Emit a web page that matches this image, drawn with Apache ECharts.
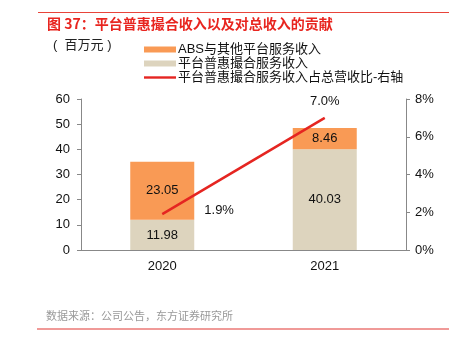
<!DOCTYPE html>
<html><head><meta charset="utf-8">
<script src="https://cdn.jsdelivr.net/npm/echarts@6/dist/echarts.min.js"></script>
<style>html,body{margin:0;padding:0;background:#fff}#c{width:450px;height:341px}</style>
</head><body><div id="c"></div>
<script>
const categories = ['2020', '2021'];
const platformRevenue = [11.98, 40.03];
const absOtherRevenue = [23.05, 8.46];
const sharePct = [1.9, 7.0];
const leftTicks = [0, 60, 10];
const rightTicks = [0, 8, 2];

const FONT = '"Liberation Sans", "Noto Sans CJK SC", sans-serif';
const chart = echarts.init(document.getElementById('c'));
chart.setOption({
  animation: false,
  textStyle: { fontFamily: FONT },
  graphic: [
    { type: 'rect', shape: { x: 38, y: 12, width: 411, height: 1 }, style: { fill: '#E8443A' } },
    { type: 'text', left: 47, top: 17, style: { text: '图 37：平台普惠撮合收入以及对总收入的贡献', fill: '#E8251F', font: 'bold 14px "Noto Sans CJK SC", sans-serif' } },
    { type: 'text', left: 53, top: 39, style: { text: '(  百万元 )', fill: '#222', font: '13px "Liberation Sans", "Noto Sans CJK SC", sans-serif' } },
    { type: 'text', left: 46, top: 310, style: { text: '数据来源：公司公告，东方证券研究所', fill: '#999', font: '11px "Noto Sans CJK SC", sans-serif' } },
    { type: 'rect', shape: { x: 37, y: 328, width: 412, height: 2 }, style: { fill: '#F09A98' } }
  ],
  legend: {
    orient: 'vertical', left: 139, top: 38, itemGap: 1, itemWidth: 32, itemHeight: 6,
    textStyle: { fontSize: 13, color: '#111', fontFamily: FONT, padding: [0, 0, 0, -3] },
    data: [
      { name: 'ABS与其他平台服务收入', icon: 'rect' },
      { name: '平台普惠撮合服务收入', icon: 'rect' },
      { name: '平台普惠撮合服务收入占总营收比-右轴', icon: 'path://M0,0L32,0L32,2.4L0,2.4Z' }
    ]
  },
  grid: { left: 81, right: 44, top: 99, bottom: 91 },
  xAxis: {
    type: 'category', data: categories,
    axisLine: { lineStyle: { color: '#888' } },
    axisTick: { inside: true, length: 4, lineStyle: { color: '#aaa' } },
    axisLabel: { color: '#111', fontSize: 13, margin: 10 }
  },
  yAxis: [
    { type: 'value', min: leftTicks[0], max: leftTicks[1], interval: leftTicks[2],
      axisLine: { show: true, lineStyle: { color: '#888' } },
      axisTick: { show: true, length: 4, lineStyle: { color: '#888' } },
      splitLine: { show: false },
      axisLabel: { color: '#111', fontSize: 13, margin: 11 } },
    { type: 'value', min: rightTicks[0], max: rightTicks[1], interval: rightTicks[2],
      axisLine: { show: true, lineStyle: { color: '#888' } },
      axisTick: { show: true, length: 4, lineStyle: { color: '#888' } },
      splitLine: { show: false },
      axisLabel: { color: '#111', fontSize: 13, margin: 9, formatter: '{value}%' } }
  ],
  series: [
    { name: '平台普惠撮合服务收入', type: 'bar', stack: 's', barWidth: 64, data: platformRevenue,
      itemStyle: { color: '#DDD4BE' },
      label: { show: true, position: 'inside', color: '#111', fontSize: 13, formatter: p => p.value.toFixed(2) } },
    { name: 'ABS与其他平台服务收入', type: 'bar', stack: 's', barWidth: 64, data: absOtherRevenue,
      itemStyle: { color: '#F99A55' },
      label: { show: true, position: 'inside', color: '#111', fontSize: 13, formatter: p => p.value.toFixed(2) } },
    { name: '平台普惠撮合服务收入占总营收比-右轴', type: 'line', yAxisIndex: 1,
      data: [
        { value: sharePct[0], label: { position: 'right', offset: [37, -4] } },
        { value: sharePct[1], label: { position: 'top', distance: 10 } }
      ],
      symbol: 'circle', symbolSize: 0.1,
      lineStyle: { color: '#E52521', width: 2.5 }, itemStyle: { color: '#E52521' },
      label: { show: true, color: '#111', fontSize: 13, formatter: p => p.value.toFixed(1) + '%' } }
  ]
});
</script></body></html>
